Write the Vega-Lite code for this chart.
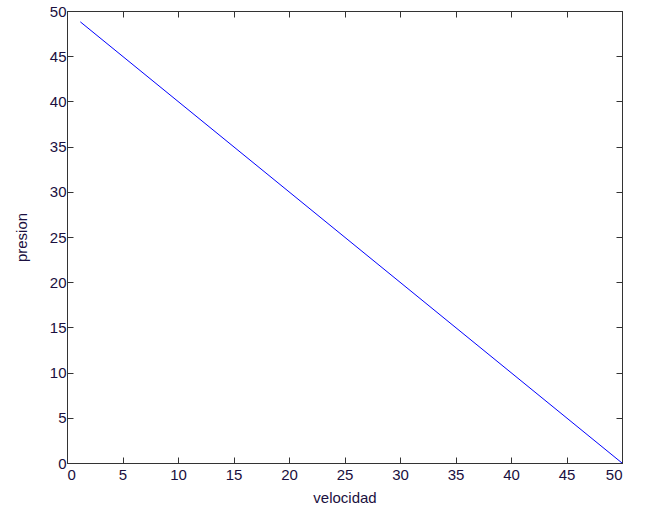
{
  "$schema": "https://vega.github.io/schema/vega-lite/v6.json",
  "width": 555,
  "height": 452,
  "autosize": {"type": "none"},
  "padding": {"left": 67, "top": 11, "right": 45, "bottom": 55},
  "background": "white",
  "config": {
    "view": {"stroke": "#333333", "strokeWidth": 1},
    "axis": {
      "grid": false,
      "domainColor": "#333333",
      "tickColor": "#333333",
      "tickSize": -6,
      "labelFont": "Liberation Sans",
      "labelFontSize": 15,
      "labelColor": "#1a1040",
      "titleFont": "Liberation Sans",
      "titleFontSize": 15,
      "titleFontWeight": "normal",
      "titleColor": "#1a1040",
      "labelPadding": 7
    }
  },
  "data": {"values": [
    {"velocidad": 1.2, "presion": 48.8},
    {"velocidad": 50, "presion": 0}
  ]},
  "layer": [
    {
      "mark": {"type": "line", "color": "#0000ff", "strokeWidth": 1},
      "encoding": {
        "x": {"field": "velocidad", "type": "quantitative", "scale": {"domain": [0, 50], "nice": false},
              "axis": {"orient": "bottom", "values": [0,5,10,15,20,25,30,35,40,45,50], "title": "velocidad", "labelPadding": 10, "titlePadding": 8}},
        "y": {"field": "presion", "type": "quantitative", "scale": {"domain": [0, 50], "nice": false},
              "axis": {"orient": "left", "values": [0,5,10,15,20,25,30,35,40,45,50], "title": "presion", "titlePadding": 20}}
      }
    },
    {
      "mark": {"type": "line", "color": "#0000ff", "strokeWidth": 1, "opacity": 0},
      "encoding": {
        "x": {"field": "velocidad", "type": "quantitative", "scale": {"domain": [0, 50], "nice": false},
              "axis": {"orient": "top", "values": [0,5,10,15,20,25,30,35,40,45,50], "labels": false, "title": null}},
        "y": {"field": "presion", "type": "quantitative", "scale": {"domain": [0, 50], "nice": false},
              "axis": {"orient": "right", "values": [0,5,10,15,20,25,30,35,40,45,50], "labels": false, "title": null}}
      }
    }
  ],
  "resolve": {"axis": {"x": "independent", "y": "independent"}}
}
